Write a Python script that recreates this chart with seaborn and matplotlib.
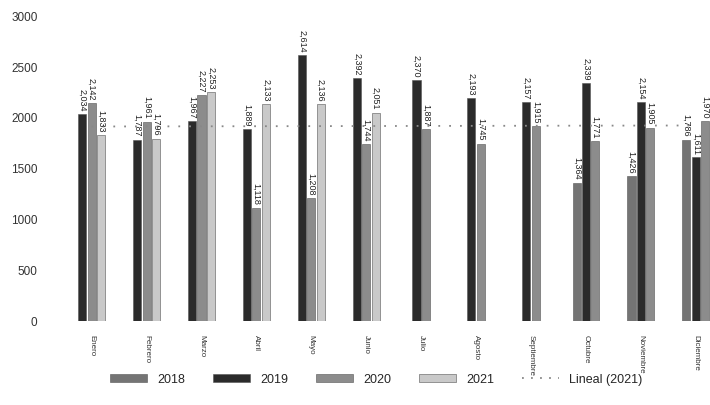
import numpy as np
import pandas as pd
import seaborn as sns
import matplotlib.pyplot as plt
from matplotlib.patches import Patch
from matplotlib.lines import Line2D

# datos
meses = ['Enero', 'Febrero', 'Marzo', 'Abril', 'Mayo', 'Junio', 'Julio',
         'Agosto', 'Septiembre', 'Octubre', 'Noviembre', 'Diciembre']
anios = ['2018', '2019', '2020', '2021']
v2018 = [None, None, None, None, None, None, None, None, None, 1364, 1426, 1786]
v2019 = [2034, 1787, 1967, 1889, 2614, 2392, 2370, 2193, 2157, 2339, 2154, 1611]
v2020 = [2142, 1961, 2227, 1118, 1208, 1744, 1887, 1745, 1915, 1771, 1905, 1970]
v2021 = [1833, 1796, 2253, 2133, 2136, 2051, None, None, None, None, None, None]
tendencia_2021 = [1915, 1925]  # extremos de la linea "Lineal (2021)"

colores = {'2018': '#747474', '2019': '#2b2b2b', '2020': '#8c8c8c', '2021': '#c9c9c9'}

# tabla larga, barras centradas dentro de cada mes
filas = []
paso = 0.17
for i, mes in enumerate(meses):
    presentes = [(a, v) for a, v in zip(anios, [v2018[i], v2019[i], v2020[i], v2021[i]]) if v is not None]
    n = len(presentes)
    for k, (a, v) in enumerate(presentes):
        filas.append({'pos': i + (k - (n - 1) / 2) * paso, 'anio': a, 'valor': v})
df = pd.DataFrame(filas)

sns.set_theme(style="white")
plt.rcParams['font.family'] = ['Liberation Sans', 'DejaVu Sans']
fig = plt.figure(figsize=(7.1, 4.05), dpi=100)
ax = fig.add_axes([0.092, 0.207, 0.908, 0.753])

sns.barplot(data=df, x='pos', y='valor', hue='anio', hue_order=anios,
            palette=colores, native_scale=True, width=0.87,
            edgecolor='#555555', linewidth=0.4, legend=False, ax=ax)

for cont in ax.containers:
    ax.bar_label(cont, labels=[f'{b.get_height():,.0f}' for b in cont],
                 rotation=-90, fontsize=6.5, padding=2, color='#222222')

# linea de tendencia
sns.lineplot(x=[0, len(meses) - 1], y=tendencia_2021, ax=ax,
             color='#888888', linestyle=(0, (1, 5)), linewidth=1.3)

ax.set_ylim(0, 3000)
ax.set_yticks(range(0, 3001, 500))
ax.set_xlim(-0.48, 11.26)
ax.set_xticks(range(len(meses)))
ax.set_xticklabels(meses, rotation=-90, fontsize=5.8, color='#333333')
ax.tick_params(axis='y', labelsize=8.5, colors='#333333', pad=14)
ax.tick_params(axis='x', pad=4)
ax.set_xlabel('')
ax.set_ylabel('')
sns.despine(ax=ax, left=True, bottom=True)

handles = [Patch(facecolor=colores[a], edgecolor='#555555', linewidth=0.4) for a in anios]
handles.append(Line2D([0], [0], color='#888888', linestyle=(0, (1, 4)), linewidth=1.3))
fig.legend(handles, anios + ['Lineal (2021)'], loc='lower center',
           bbox_to_anchor=(0.53, 0.02), ncol=5, frameon=False, fontsize=9,
           handlelength=3.0, handleheight=0.6, columnspacing=2.2)

plt.savefig('out.png', dpi=100)
